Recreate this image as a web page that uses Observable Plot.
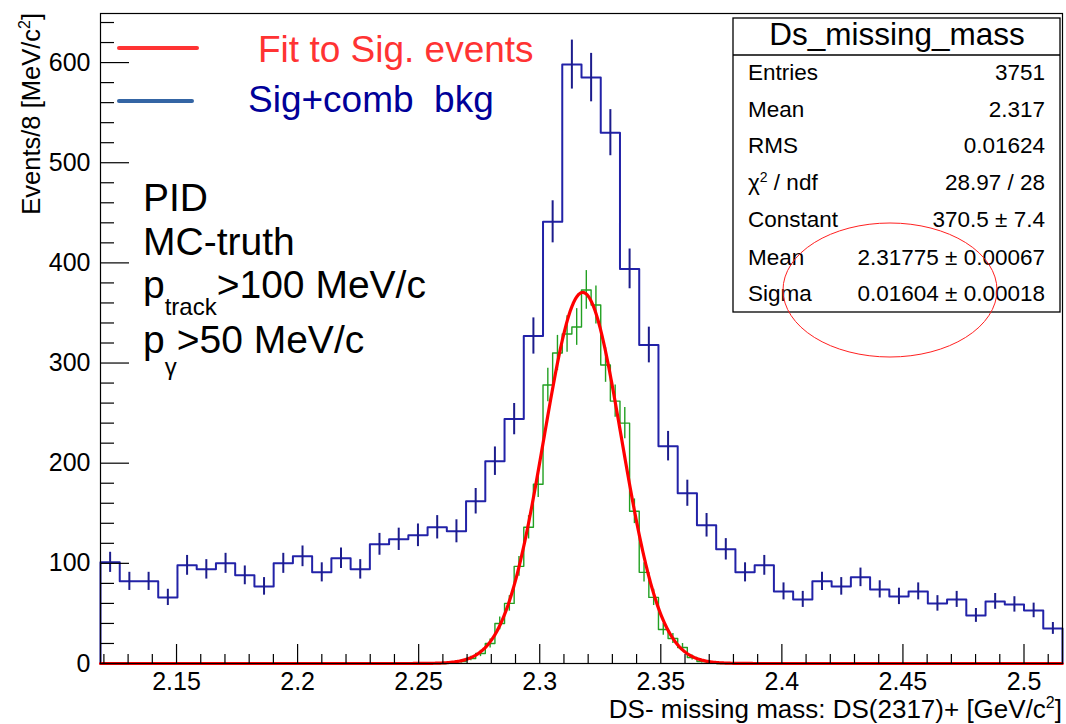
<!DOCTYPE html>
<html><head><meta charset="utf-8">
<script src="https://cdn.jsdelivr.net/npm/d3@7"></script>
<script src="https://cdn.jsdelivr.net/npm/@observablehq/plot@0.6"></script>
<style>
html,body{margin:0;padding:0;background:#fff;}
#chart{position:relative;width:1066px;height:724px;}
</style></head><body><div id="chart"></div>
<script>
// ---- data ----
const xMin = 2.1186, xMax = 2.5159;           // histogram range (GeV/c^2)
// Sig + comb bkg, 50 bins (8 MeV)
const blueCounts = [101,82,82,66,98,94,100,88,77,100,
                    107,91,105,94,119,124,128,136,132,162,
                    202,244,327,441,598,585,530,394,318,217,
                    170,138,114,91,98,72,64,82,77,86,
                    74,67,72,60,64,48,62,59,53,35];
// MC-truth signal, 100 bins (4 MeV); non-zero bins 36..63
const greenFirstBin = 36;
const greenNonZero = [1,2,5,10,20,40,60,97,136,179,278,310,329,336,373,358,298,262,240,152,91,66,34,25,16,6,2,1];
const greenBins = 100;
// Gaussian fit parameters (stats box)
const fitConstant = 370.5, fitMean = 2.31775, fitSigma = 0.01604;
const xTicks = [2.15,2.2,2.25,2.3,2.35,2.4,2.45,2.5];
const xTickLabels = ["2.15","2.2","2.25","2.3","2.35","2.4","2.45","2.5"];
const yTicks = [0,100,200,300,400,500,600];
const yTickLabels = ["0","100","200","300","400","500","600"];
const statsTitle = "Ds_missing_mass";
const statsLabels = ["Entries","Mean","RMS","χ²","Constant","Mean","Sigma"];
const statsValues = ["3751","2.317","0.01624","28.97 / 28","370.5 ± 7.4","2.31775 ± 0.00067","0.01604 ± 0.00018"];
const legendLabels = ["Fit to Sig. events","Sig+comb  bkg"];
const noteLines = ["PID","MC-truth"];
const xTitle = "DS- missing mass: DS(2317)+ [GeV/c";
const yTitle = "Events/8 [MeV/c";

// ---- build tables ----
const greenCounts = Array.from({length: greenBins}, (_, i) => {
  const j = i - greenFirstBin;
  return (j >= 0 && j < greenNonZero.length) ? greenNonZero[j] : 0;
});
function stepPoints(counts) {
  const n = counts.length, w = (xMax - xMin) / n;
  const pts = [{x: xMin, y: 0}];
  counts.forEach((c, i) => pts.push({x: xMin + i * w, y: c}));
  pts.push({x: xMax, y: counts[n - 1]});
  pts.push({x: xMax, y: 0});
  return pts;
}
function errPoints(counts) {
  const n = counts.length, w = (xMax - xMin) / n;
  return counts.map((c, i) => ({x: xMin + (i + 0.5) * w, lo: c - Math.sqrt(c), hi: c + Math.sqrt(c), c}))
               .filter(d => d.c > 0);
}
const fitCurve = d3.range(xMin, xMax + 1e-9, 0.0004).map(x => ({x, y: fitConstant * Math.exp(-0.5 * ((x - fitMean) / fitSigma) ** 2)}));
const xMinor = d3.range(2.12, 2.515, 0.01).map(v => +v.toFixed(3)).filter(v => !xTicks.some(t => Math.abs(t - v) < 1e-6));
const yMinor = d3.range(20, 649, 20).filter(v => v % 100 !== 0);

const W = 1066, H = 724, mL = 100, mR = 4, mT = 13, mB = 61;
const fW = W - mL - mR, fH = H - mT - mB;

const plot = Plot.plot({
  width: W, height: H,
  marginLeft: mL, marginRight: mR, marginTop: mT, marginBottom: mB,
  x: {domain: [xMin, xMax]},
  y: {domain: [0, 649]},
  style: {fontFamily: "'Liberation Sans', Arial, sans-serif", fontSize: "25px", color: "#000", background: "#fff"},
  marks: [
    Plot.line(stepPoints(blueCounts), {x: "x", y: "y", curve: "step-after", stroke: "#2222a8", strokeWidth: 2}),
    Plot.ruleX(errPoints(blueCounts), {x: "x", y1: "lo", y2: "hi", stroke: "#1c1c8c", strokeWidth: 2}),
    Plot.line(stepPoints(greenCounts), {x: "x", y: "y", curve: "step-after", stroke: "#22a022", strokeWidth: 1.4}),
    Plot.ruleX(errPoints(greenCounts), {x: "x", y1: "lo", y2: "hi", stroke: "#22a022", strokeWidth: 1.4}),
    Plot.line(fitCurve, {x: "x", y: "y", stroke: "#ff0000", strokeWidth: 3.2}),
    Plot.ruleX(xTicks, {x: d => d, insetTop: fH - 19, stroke: "#000", strokeWidth: 1.2}),
    Plot.ruleX(xMinor, {x: d => d, insetTop: fH - 9, stroke: "#000", strokeWidth: 1.2}),
    Plot.ruleY(yTicks, {y: d => d, insetRight: fW - 29, stroke: "#000", strokeWidth: 1.2}),
    Plot.ruleY(yMinor, {y: d => d, insetRight: fW - 14, stroke: "#000", strokeWidth: 1.2}),
    Plot.frame({stroke: "#000", strokeWidth: 1.2}),
    Plot.axisX(xTicks, {tickSize: 0, tickPadding: 9, label: null, fontSize: 25,
      tickFormat: d => xTickLabels[xTicks.indexOf(d)]}),
    Plot.axisY(yTicks, {tickSize: 0, tickPadding: 10, label: null, fontSize: 25,
      tickFormat: d => yTickLabels[yTicks.indexOf(d)]})
  ]
});
document.getElementById("chart").appendChild(plot);

// ---- annotations (real text) ----
const svg = d3.select(plot);
const g = svg.append("g").attr("font-family", "'Liberation Sans', Arial, sans-serif")
  .attr("text-anchor", "start").attr("fill", "#000");

// axis titles
const xt = g.append("text").attr("x", 1062).attr("y", 718).attr("text-anchor", "end")
  .attr("font-size", 26).attr("fill", "#000").text(xTitle);
xt.append("tspan").attr("dy", -10).attr("font-size", 16).text("2");
xt.append("tspan").attr("dy", 10).text("]");
const yt = g.append("text").attr("transform", "translate(40,13) rotate(-90)").attr("text-anchor", "end")
  .attr("font-size", 25.5).attr("fill", "#000").text(yTitle);
yt.append("tspan").attr("dy", -10).attr("font-size", 16).text("2");
yt.append("tspan").attr("dy", 10).text("]");

// legend
g.append("line").attr("x1", 119).attr("x2", 197).attr("y1", 48).attr("y2", 48)
  .attr("stroke", "#ff3333").attr("stroke-width", 4).attr("stroke-linecap", "round");
g.append("text").attr("x", 258).attr("y", 62).attr("font-size", 37).attr("fill", "#ff3333").text(legendLabels[0]);
g.append("line").attr("x1", 119).attr("x2", 192).attr("y1", 101).attr("y2", 101)
  .attr("stroke", "#3465a4").attr("stroke-width", 4).attr("stroke-linecap", "round");
g.append("text").attr("x", 248).attr("y", 112).attr("font-size", 37).attr("fill", "#000099")
  .attr("xml:space", "preserve").style("white-space", "pre").text(legendLabels[1]);

// notes
g.append("text").attr("x", 143).attr("y", 211).attr("font-size", 39).text(noteLines[0]);
g.append("text").attr("x", 143).attr("y", 255).attr("font-size", 39).text(noteLines[1]);
const n3 = g.append("text").attr("x", 143).attr("y", 298).attr("font-size", 39).text("p");
n3.append("tspan").attr("dy", 17).attr("font-size", 24).text("track");
n3.append("tspan").attr("dy", -17).text(">100 MeV/c");
const n4 = g.append("text").attr("x", 143).attr("y", 353).attr("font-size", 39).text("p");
n4.append("tspan").attr("dy", 22).attr("font-size", 24).text("γ");
n4.append("tspan").attr("dy", -22).text(">50 MeV/c");

// stats box
g.append("rect").attr("x", 733).attr("y", 18).attr("width", 327).attr("height", 294)
  .attr("fill", "#fff").attr("stroke", "#000").attr("stroke-width", 1.3);
g.append("line").attr("x1", 733).attr("x2", 1060).attr("y1", 55).attr("y2", 55).attr("stroke", "#000").attr("stroke-width", 1.3);
g.append("text").attr("x", 897).attr("y", 45).attr("text-anchor", "middle").attr("font-size", 31.5).text(statsTitle);
const rowY = [80, 117, 153, 190, 227, 265, 301];
statsLabels.forEach((lab, i) => {
  const t = g.append("text").attr("x", 748).attr("y", rowY[i]).attr("text-anchor", "start").attr("font-size", 22.5);
  if (lab === "χ²") {
    t.text("χ");
    t.append("tspan").attr("dy", -8).attr("font-size", 14).text("2");
    t.append("tspan").attr("dy", 8).text(" / ndf");
  } else t.text(lab);
  g.append("text").attr("x", 1045).attr("y", rowY[i]).attr("text-anchor", "end").attr("font-size", 22.5).text(statsValues[i]);
});
// hand-drawn ellipse
g.append("ellipse").attr("cx", 890).attr("cy", 290).attr("rx", 107).attr("ry", 67)
  .attr("fill", "none").attr("stroke", "#ff2020").attr("stroke-width", 1);
</script></body></html>
